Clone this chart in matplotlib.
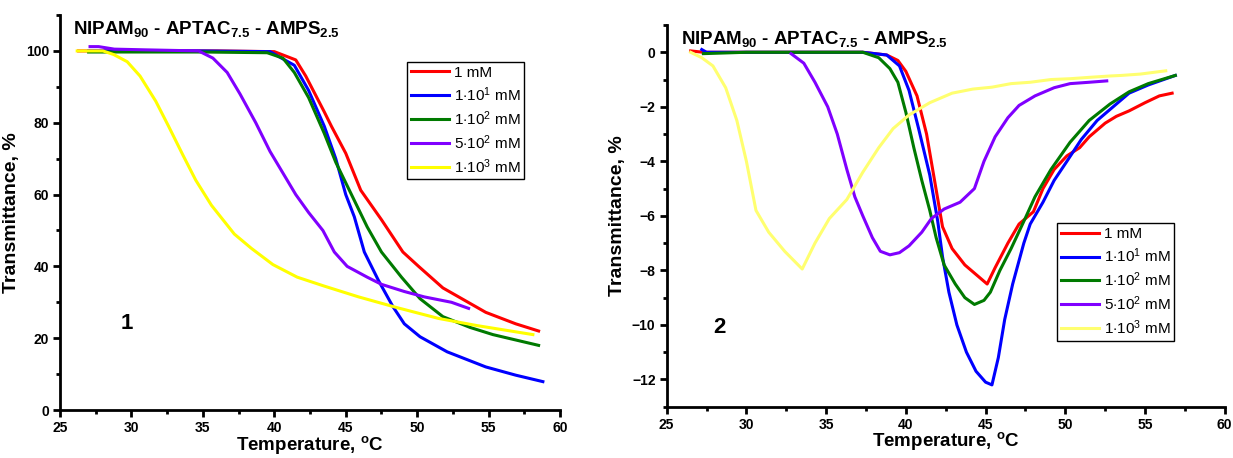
import matplotlib
matplotlib.use("Agg")
import matplotlib.pyplot as plt
from matplotlib.ticker import MultipleLocator

plt.rcParams['font.family'] = ['Liberation Sans', 'DejaVu Sans']
plt.rcParams['mathtext.fontset'] = 'custom'
plt.rcParams['mathtext.rm'] = 'Liberation Sans'
plt.rcParams['mathtext.bf'] = 'Liberation Sans:bold'
plt.rcParams['mathtext.it'] = 'Liberation Sans:italic'

labels = ['1 mM', r'1$\cdot$10$^{1}$ mM', r'1$\cdot$10$^{2}$ mM',
          r'5$\cdot$10$^{2}$ mM', r'1$\cdot$10$^{3}$ mM']
colors = ['#ff0000', '#0000ff', '#007a00', '#8000ff', '#ffff00']
colors2 = ['#ff0000', '#0000ff', '#007a00', '#8000ff', '#ffff70']

# ---- panel 1: transmittance curves ----
t1_red = [26.3, 28, 32, 36, 40, 41.5, 42.2, 43.5, 44.0, 45.0, 46.05, 47.5, 49.0, 50.1, 51.8, 54.8, 56.9, 58.5]
y1_red = [100, 100, 100, 100, 99.8, 97.5, 93, 83, 79, 71.5, 61.2, 53, 44, 40, 34, 27.2, 24, 22]

t1_blue = [27.0, 30, 35, 39.7, 41.4, 42.4, 43.5, 44.3, 45.0, 45.6, 46.3, 47.3, 48.3, 49.1, 50.2, 52.1, 54.8, 56.9, 58.8]
y1_blue = [100, 100, 100, 99.8, 96, 89, 79, 70, 60, 53.8, 44, 36, 28.8, 24, 20.4, 16.2, 12, 9.7, 7.9]

t1_green = [27.0, 30, 35, 39.5, 40.6, 41.4, 42.4, 43.5, 44.3, 45.4, 46.5, 47.5, 48.9, 50.2, 51.8, 53.7, 55.3, 58.5]
y1_green = [99.7, 99.7, 99.7, 99.5, 98, 94, 87, 77, 69, 60, 51, 44, 37, 31, 26, 23, 21, 18]

t1_purple = [27.1, 27.7, 28.8, 31, 34.7, 35.7, 36.7, 37.6, 38.7, 39.7, 40.6, 41.5, 42.4, 43.4, 44.2, 45.1, 46.5, 47.5, 49.1, 50.5, 52.4, 53.6]
y1_purple = [101.2, 101.2, 100.5, 100.3, 100, 98, 94, 88, 80, 72, 66, 60, 55, 50, 44, 40, 37, 35, 33, 31.5, 30, 28.3]

t1_yellow = [26.2, 28.0, 28.75, 29.7, 30.6, 31.7, 32.6, 33.6, 34.5, 35.6, 37.2, 38.4, 39.9, 41.6, 43.5, 45.9, 48.6, 51.5, 54.2, 58.1]
y1_yellow = [100, 100, 99, 97, 93, 86, 79, 71, 64, 57, 49, 45, 40.5, 37, 34.5, 31.5, 28.5, 25.5, 23.5, 21]

# ---- panel 2: derivative curves ----
t2_red = [26.5, 27.3, 30, 34, 37.3, 38.8, 39.5, 40.0, 40.7, 41.3, 41.8, 42.3, 42.9, 43.7, 44.4, 45.1, 45.6, 46.4, 47.1, 48.0, 48.6, 49.3, 50.1, 50.9, 51.5, 52.5, 53.2, 54.0, 55.0, 55.9, 56.7]
y2_red = [0.05, 0, 0, 0, 0, -0.1, -0.3, -0.7, -1.6, -3.0, -4.7, -6.4, -7.2, -7.8, -8.15, -8.5, -7.9, -7.0, -6.3, -5.85, -5.0, -4.3, -3.8, -3.5, -3.1, -2.6, -2.35, -2.15, -1.85, -1.6, -1.5]

t2_blue = [27.2, 27.5, 30, 34, 37.3, 38.8, 39.6, 40.2, 40.8, 41.5, 42.0, 42.3, 42.7, 43.2, 43.8, 44.4, 45.0, 45.4, 45.8, 46.2, 46.7, 47.4, 47.8, 48.6, 49.3, 50.1, 51.0, 52.0, 53.2, 54.0, 55.2, 56.9]
y2_blue = [0.1, 0, 0, 0, 0, -0.1, -0.5, -1.4, -2.8, -4.5, -6.2, -7.5, -8.8, -10.0, -11.0, -11.7, -12.1, -12.2, -11.2, -9.8, -8.5, -7.0, -6.3, -5.5, -4.7, -4.0, -3.2, -2.5, -1.9, -1.5, -1.2, -0.85]

t2_green = [27.3, 30, 34, 37.3, 38.3, 39.0, 39.5, 40.0, 40.5, 41.0, 41.5, 41.9, 42.4, 43.1, 43.7, 44.3, 44.9, 45.3, 45.9, 46.6, 47.4, 48.1, 49.1, 50.3, 51.5, 52.8, 54.0, 55.2, 56.9]
y2_green = [-0.05, 0, 0, 0, -0.2, -0.6, -1.1, -2.2, -3.5, -4.7, -5.8, -6.8, -7.8, -8.5, -9.0, -9.25, -9.1, -8.8, -8.0, -7.2, -6.2, -5.3, -4.3, -3.3, -2.5, -1.9, -1.45, -1.15, -0.85]

t2_purple = [32.8, 33.6, 34.3, 35.1, 35.7, 36.3, 36.8, 37.3, 37.9, 38.4, 39.0, 39.6, 40.2, 41.0, 41.6, 42.4, 43.4, 44.3, 44.9, 45.6, 46.4, 47.1, 48.1, 49.3, 50.3, 51.5, 52.6]
y2_purple = [-0.05, -0.4, -1.1, -2.0, -3.0, -4.3, -5.3, -6.0, -6.8, -7.3, -7.43, -7.35, -7.1, -6.6, -6.1, -5.75, -5.5, -5.0, -4.0, -3.1, -2.4, -1.95, -1.6, -1.3, -1.15, -1.1, -1.05]

t2_yellow = [26.5, 27.2, 27.9, 28.7, 29.4, 30.0, 30.6, 31.4, 32.4, 33.5, 34.3, 35.2, 36.3, 37.3, 38.3, 39.2, 40.2, 41.5, 42.9, 44.2, 45.4, 46.6, 47.8, 49.1, 50.3, 51.5, 52.8, 53.5, 54.7, 56.3]
y2_yellow = [0, -0.2, -0.5, -1.3, -2.5, -4.0, -5.8, -6.6, -7.3, -7.95, -7.0, -6.1, -5.4, -4.4, -3.5, -2.8, -2.3, -1.85, -1.5, -1.35, -1.28, -1.15, -1.1, -1.0, -0.97, -0.92, -0.87, -0.85, -0.8, -0.68]

panel1 = [(t1_red, y1_red), (t1_blue, y1_blue), (t1_green, y1_green), (t1_purple, y1_purple), (t1_yellow, y1_yellow)]
panel2 = [(t2_red, y2_red), (t2_blue, y2_blue), (t2_green, y2_green), (t2_purple, y2_purple), (t2_yellow, y2_yellow)]

title = r'NIPAM$_{\mathbf{90}}$ - APTAC$_{\mathbf{7.5}}$ - AMPS$_{\mathbf{2.5}}$'

fig = plt.figure(figsize=(12.33, 4.58), dpi=100)
ax1 = fig.add_axes([0.0487, 0.1048, 0.4055, 0.8624])
ax2 = fig.add_axes([0.5407, 0.112, 0.4526, 0.8334])


def style(ax, ymaj, ymin):
    for s in ['top', 'right']:
        ax.spines[s].set_visible(False)
    for s in ['left', 'bottom']:
        ax.spines[s].set_linewidth(2)
    ax.set_xlim(25, 60)
    ax.xaxis.set_major_locator(MultipleLocator(5))
    ax.xaxis.set_minor_locator(MultipleLocator(2.5))
    ax.yaxis.set_major_locator(MultipleLocator(ymaj))
    ax.yaxis.set_minor_locator(MultipleLocator(ymin))
    ax.tick_params(which='major', direction='out', length=5, width=2, labelsize=10, pad=3)
    ax.tick_params(which='minor', direction='out', length=3, width=2)
    for lbl in ax.get_xticklabels() + ax.get_yticklabels():
        lbl.set_fontweight('bold')
    ax.set_xlabel(r'Temperature, $^{\mathbf{o}}$C', fontsize=13.5, fontweight='bold', labelpad=-1)
    ax.set_ylabel('Transmittance, %', fontsize=14, fontweight='bold', labelpad=4)
    ax.text(0.025, 0.99, title, transform=ax.transAxes, fontsize=13.5, fontweight='bold', va='top', ha='left')


def add_legend(ax, anchor):
    leg = ax.legend(loc='upper left', bbox_to_anchor=anchor, fontsize=11, frameon=True, fancybox=False,
                    edgecolor='black', framealpha=1, handlelength=2.5, handletextpad=0.3,
                    labelspacing=0.35, borderpad=0.25, borderaxespad=0)
    leg.get_frame().set_linewidth(1)


for (t, y), c, lab in zip(panel1, colors, labels):
    ax1.plot(t, y, color=c, lw=2.2, label=lab)
ax1.set_ylim(0, 110)
style(ax1, 20, 10)
ax1.text(29.7, 24, '1', fontsize=16, fontweight='bold', ha='center', va='center')
add_legend(ax1, (0.694, 0.881))

for (t, y), c, lab in zip(panel2, colors2, labels):
    ax2.plot(t, y, color=c, lw=2.2, label=lab)
ax2.set_ylim(-13, 1)
style(ax2, 2, 1)
ax2.text(28.3, -10.1, '2', fontsize=16, fontweight='bold', ha='center', va='center')
add_legend(ax2, (0.70, 0.481))

fig.savefig('out.png', dpi=100)
